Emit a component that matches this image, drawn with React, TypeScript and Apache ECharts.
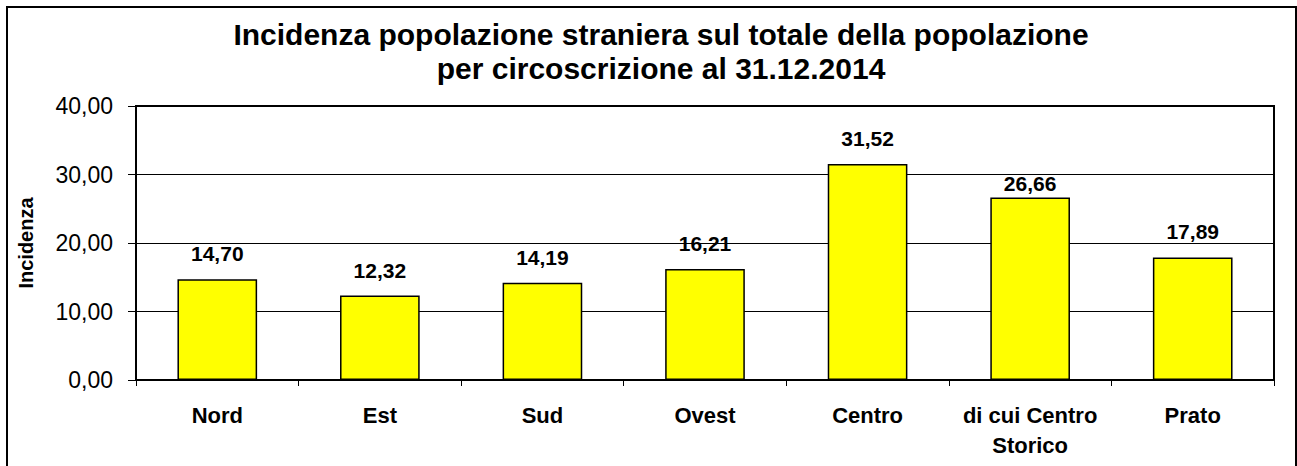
import React, { useEffect, useRef } from "react";
import * as echarts from "echarts";

const titleLines = [
  "Incidenza popolazione straniera sul totale della popolazione",
  "per circoscrizione al 31.12.2014",
];
const categories = ["Nord", "Est", "Sud", "Ovest", "Centro", "di cui Centro\nStorico", "Prato"];
const values = [14.7, 12.32, 14.19, 16.21, 31.52, 26.66, 17.89];
const labelDistances = [15, 15, 15, 15, 15, 3, 15];
const yAxisName = "Incidenza";
const yMin = 0;
const yMax = 40;
const yStep = 10;

const FONT = '"Liberation Sans", Arial, Helvetica, sans-serif';
const fmt = (v: number) => v.toFixed(2).replace(".", ",");

export default function App() {
  const ref = useRef<HTMLDivElement>(null);
  useEffect(() => {
    if (!ref.current) return;
    const chart = echarts.init(ref.current, null, { renderer: "svg" });
    chart.setOption({
      animation: false,
      backgroundColor: "#fff",
      textStyle: { fontFamily: FONT },
      title: {
        text: titleLines.join("\n"),
        left: 656,
        top: 12,
        textAlign: "center",
        textStyle: {
          fontFamily: FONT,
          fontSize: 30,
          fontWeight: "bold",
          color: "#000",
          lineHeight: 34,
        },
      },
      graphic: [
        {
          type: "rect",
          shape: { x: 7, y: 7, width: 1289, height: 470 },
          style: { fill: "none", stroke: "#000", lineWidth: 2 },
          silent: true,
        },
      ],
      grid: {
        left: 136,
        right: 23,
        top: 106,
        bottom: 86,
        show: true,
        borderColor: "#000",
        borderWidth: 2,
        backgroundColor: "transparent",
      },
      xAxis: {
        type: "category",
        data: categories,
        boundaryGap: true,
        axisLine: { show: true, lineStyle: { color: "#000", width: 2 } },
        axisTick: { show: true, length: 6, lineStyle: { color: "#000", width: 1 } },
        axisLabel: {
          interval: 0,
          margin: 20,
          color: "#000",
          fontFamily: FONT,
          fontSize: 22,
          fontWeight: "bold",
          lineHeight: 30,
        },
        splitLine: { show: false },
      },
      yAxis: {
        type: "value",
        min: yMin,
        max: yMax,
        interval: yStep,
        name: yAxisName,
        nameLocation: "middle",
        nameGap: 100,
        nameRotate: 90,
        nameTextStyle: {
          fontFamily: FONT,
          fontSize: 20,
          fontWeight: "bold",
          color: "#000",
        },
        axisLine: { show: true, lineStyle: { color: "#000", width: 2 } },
        axisTick: { show: true, length: 8, lineStyle: { color: "#000", width: 1 } },
        axisLabel: {
          margin: 23,
          color: "#000",
          fontFamily: FONT,
          fontSize: 23,
          formatter: (v: number) => fmt(v),
        },
        splitLine: { show: true, lineStyle: { color: "#000", width: 1 } },
      },
      series: [
        {
          type: "bar",
          barWidth: "49%",
          data: values.map((v, i) => ({
            value: v,
            label: { distance: labelDistances[i] },
          })),
          itemStyle: { color: "#FFFF00", borderColor: "#000", borderWidth: 1.5 },
          label: {
            show: true,
            position: "top",
            color: "#000",
            fontFamily: FONT,
            fontSize: 21,
            fontWeight: "bold",
            formatter: (p: any) => fmt(p.value),
          },
        },
      ],
    });
    return () => chart.dispose();
  }, []);
  return (
    <div
      ref={ref}
      style={{ position: "fixed", left: 0, top: 0, width: 1297, height: 466 }}
    />
  );
}
